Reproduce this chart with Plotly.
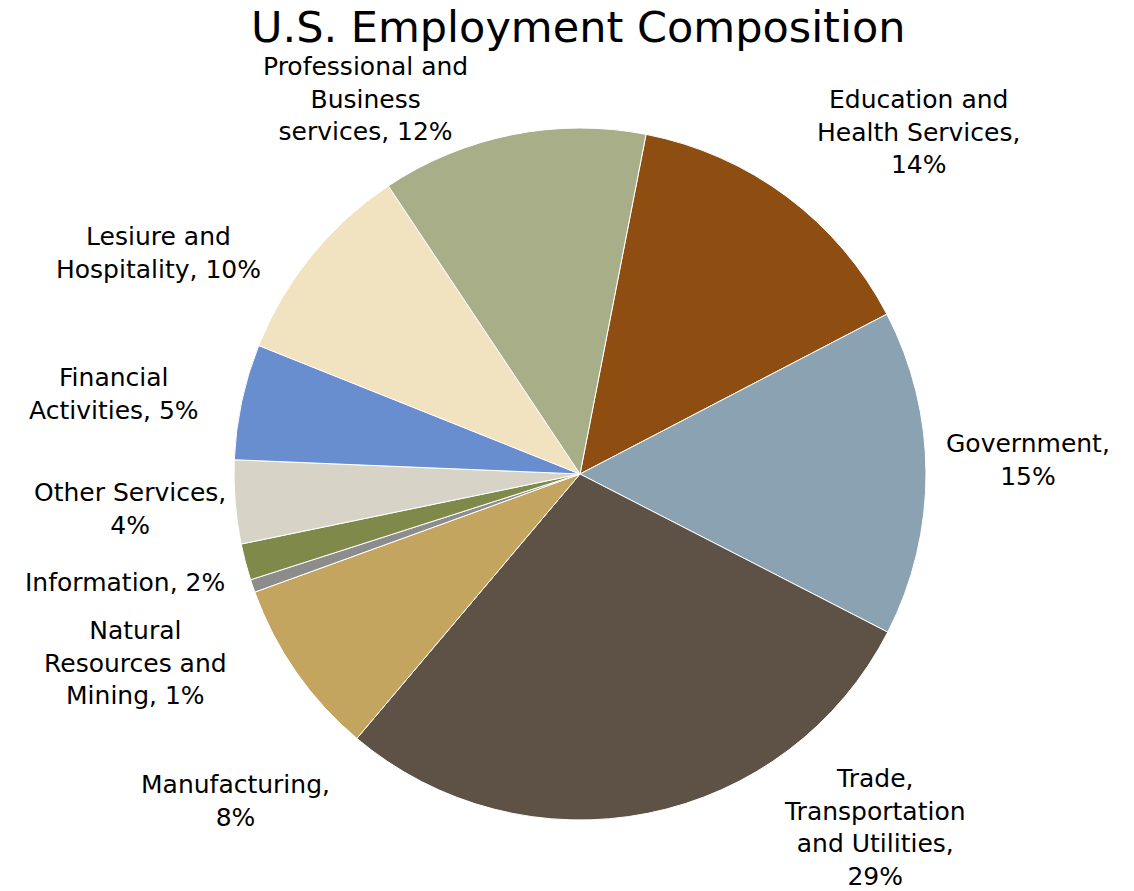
import plotly.graph_objects as go

# Employment shares by sector (percent of total nonfarm), clockwise order
sectors = [
    "Education and Health Services",
    "Government",
    "Trade, Transportation and Utilities",
    "Manufacturing",
    "Natural Resources and Mining",
    "Information",
    "Other Services",
    "Financial Activities",
    "Lesiure and Hospitality",
    "Professional and Business services",
]
shares = [14.3, 15.2, 28.6, 8.3, 0.6, 1.7, 3.9, 5.4, 9.6, 12.4]
colors = [
    "#8E4E12", "#8AA2B1", "#5E5246", "#C4A55F", "#8C8C8C",
    "#7F8A4A", "#D7D3C7", "#698ED0", "#F1E2C0", "#A8AE88",
]

# Label text split into lines, plus where each label block sits (pixels)
label_lines = [
    ["Education and", "Health Services,"],
    ["Government,"],
    ["Trade,", "Transportation", "and Utilities,"],
    ["Manufacturing,"],
    ["Natural", "Resources and", "Mining,"],
    ["Information,"],
    ["Other Services,"],
    ["Financial", "Activities,"],
    ["Lesiure and", "Hospitality,"],
    ["Professional and", "Business", "services,"],
]
# percent goes on its own line or appended to the last line
pct_newline = [True, True, True, True, False, False, True, False, False, False]
label_pos = [
    (918, 132), (1028, 459.5), (875, 827.5), (235, 800.5), (135, 662.5),
    (125, 582), (130, 508.5), (114, 393.5), (158, 253), (365, 99.5),
]

W, H = 1134, 891
cx, cy, r = 580, 474, 346

fig = go.Figure(
    go.Pie(
        labels=sectors,
        values=shares,
        sort=False,
        direction="clockwise",
        rotation=11,
        marker=dict(colors=colors, line=dict(color="white", width=1)),
        textinfo="none",
        hoverinfo="label+percent",
        showlegend=False,
        domain=dict(
            x=[(cx - r) / W, (cx + r) / W],
            y=[(H - cy - r) / H, (H - cy + r) / H],
        ),
    )
)

total = sum(shares)
annotations = []
for lines, nl, (x, y), v in zip(label_lines, pct_newline, label_pos, shares):
    pct = f"{round(v / total * 100)}%"
    if nl:
        text = "<br>".join(lines + [pct])
    else:
        text = "<br>".join(lines[:-1] + [lines[-1] + " " + pct])
    annotations.append(
        dict(
            text=text, x=x / W, y=1 - y / H, xref="paper", yref="paper",
            xanchor="center", yanchor="middle", showarrow=False,
            align="center", font=dict(family="DejaVu Sans", size=25, color="#000000"),
        )
    )

annotations.append(
    dict(
        text="U.S. Employment Composition", x=578 / W, y=1 - 27 / H,
        xref="paper", yref="paper", xanchor="center", yanchor="middle",
        showarrow=False, font=dict(family="DejaVu Sans", size=43, color="#000000"),
    )
)

fig.update_layout(
    width=W, height=H,
    margin=dict(l=0, r=0, t=0, b=0),
    paper_bgcolor="white", plot_bgcolor="white",
    annotations=annotations,
)

fig.write_html("out.html")
